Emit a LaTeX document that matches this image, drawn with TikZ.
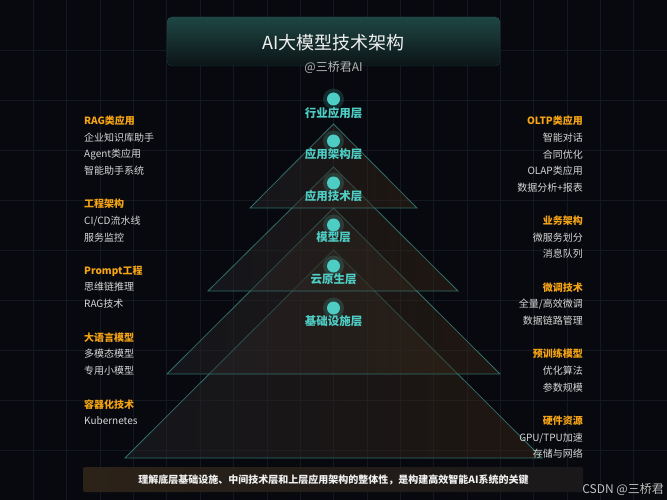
\documentclass[tikz,border=0pt]{standalone}
\usepackage{fontspec}
\setmainfont{Noto Sans CJK SC}
\usepackage{xcolor}
\usepackage{tikz}
\usetikzlibrary{calc}
\definecolor{bg}{HTML}{08090E}
\definecolor{gridc}{HTML}{141820}
\definecolor{teal}{HTML}{4ECDC4}
\definecolor{edge}{HTML}{3A8C86}
\definecolor{gold}{HTML}{F5A416}
\definecolor{item}{HTML}{D6D6D6}
\definecolor{boxtop}{HTML}{1E4644}
\definecolor{boxbot}{HTML}{0C1416}
\definecolor{tril}{HTML}{26272C}
\definecolor{trir}{HTML}{3A2816}
\definecolor{banl}{HTML}{2C2218}
\definecolor{banr}{HTML}{1A181A}
\tikzset{
  gridline/.style={draw=gridc, line width=0.6pt},
  tri/.style={draw=edge, draw opacity=0.75, line width=0.8pt, left color=tril, right color=trir, fill opacity=0.45},
  dot/.style={circle, fill=teal, inner sep=0pt, minimum size=13pt},
  glow/.style={circle, fill=teal, fill opacity=0.18, inner sep=0pt, minimum size=21pt},
  layer/.style={text=teal, font=\fontsize{11.5}{13}\selectfont\bfseries},
  head/.style={text=gold, font=\fontsize{10}{12}\selectfont\bfseries, anchor=#1, inner sep=0pt},
  itm/.style={text=item, font=\fontsize{10}{12}\selectfont, anchor=#1, inner sep=0pt},
}

\begin{document}
\begin{tikzpicture}[x=1pt,y=-1pt]
  % background and grid
  \fill[bg] (0,0) rectangle (667,500);
  \useasboundingbox (0,0) rectangle (667,500);
  \foreach \gx in {1,...,19} \draw[gridline] ({\gx*33.35},0) -- ({\gx*33.35},500);
  \foreach \gy in {1,...,9} \draw[gridline] (0,{\gy*50}) -- (667,{\gy*50});

  % title box
  \shade[rounded corners=5pt, top color=boxtop, bottom color=boxbot, draw=edge, draw opacity=0.35]
    (167,17) rectangle (500,66);
  \node[text=white!94!black, font=\fontsize{18}{20}\selectfont] (title) at (333.5,43) {AI大模型技术架构};
  \node[text=item!85!black, font=\fontsize{12}{14}\selectfont] (sub) at (333.5,67) {@三桥君AI};

  % pyramid
  \coordinate (top) at (333.5,0);
  \path[tri] (333.5,250) -- (125,458) -- (542,458) -- cycle;
  \path[tri] (333.5,208) -- (167,374) -- (500,374) -- cycle;
  \path[tri] (333.5,167) -- (208,291) -- (458,291) -- cycle;
  \path[tri] (333.5,124) -- (250,208) -- (417,208) -- cycle;

  % layers
  \node[glow] at (333.5,99) {};  \node[dot] (d1) at (333.5,99) {};
  \node[layer] (l1) at (333.5,113) {行业应用层};
  \node[glow] at (333.5,141) {}; \node[dot] (d2) at (333.5,141) {};
  \node[layer] (l2) at (333.5,154) {应用架构层};
  \node[glow] at (333.5,183) {}; \node[dot] (d3) at (333.5,183) {};
  \node[layer] (l3) at (333.5,196) {应用技术层};
  \node[glow] at (333.5,225) {}; \node[dot] (d4) at (333.5,225) {};
  \node[layer] (l4) at (333.5,237) {模型层};
  \node[glow] at (333.5,266) {}; \node[dot] (d5) at (333.5,266) {};
  \node[layer] (l5) at (333.5,279) {云原生层};
  \node[glow] at (333.5,308) {}; \node[dot] (d6) at (333.5,308) {};
  \node[layer] (l6) at (333.5,321) {基础设施层};

  % left column
  \node[head=west] (rag) at (84,121) {RAG类应用};
  \node[itm=west] (ragA) at (84,138) {企业知识库助手};
  \node[itm=west] (ragB) at (84,155) {Agent类应用};
  \node[itm=west] (ragC) at (84,171) {智能助手系统};
  \node[head=west] (eng) at (84,204) {工程架构};
  \node[itm=west] (engA) at (84,221) {CI/CD流水线};
  \node[itm=west] (engB) at (84,238) {服务监控};
  \node[head=west] (prm) at (84,271) {Prompt工程};
  \node[itm=west] (prmA) at (84,287) {思维链推理};
  \node[itm=west] (prmB) at (84,304) {RAG技术};
  \node[head=west] (llm) at (84,338) {大语言模型};
  \node[itm=west] (llmA) at (84,354) {多模态模型};
  \node[itm=west] (llmB) at (84,371) {专用小模型};
  \node[head=west] (ctr) at (84,405) {容器化技术};
  \node[itm=west] (ctrA) at (84,421) {Kubernetes};

  % right column
  \node[head=east] (oltp) at (583,121) {OLTP类应用};
  \node[itm=east] (oltpA) at (583,138) {智能对话};
  \node[itm=east] (oltpB) at (583,155) {合同优化};
  \node[itm=east] (oltpC) at (583,171) {OLAP类应用};
  \node[itm=east] (oltpD) at (583,188) {数据分析+报表};
  \node[head=east] (biz) at (583,221) {业务架构};
  \node[itm=east] (bizA) at (583,238) {微服务划分};
  \node[itm=east] (bizB) at (583,254) {消息队列};
  \node[head=east] (ft) at (583,288) {微调技术};
  \node[itm=east] (ftA) at (583,304) {全量/高效微调};
  \node[itm=east] (ftB) at (583,321) {数据链路管理};
  \node[head=east] (pre) at (583,354) {预训练模型};
  \node[itm=east] (preA) at (583,371) {优化算法};
  \node[itm=east] (preB) at (583,388) {参数规模};
  \node[head=east] (hw) at (583,421) {硬件资源};
  \node[itm=east] (hwA) at (583,438) {GPU/TPU加速};
  \node[itm=east] (hwB) at (583,454) {存储与网络};

  % banner
  \shade[left color=banl, right color=banr, rounded corners=2pt] (83,467) rectangle (583,492);
  \node[text=white!94!black, font=\fontsize{10}{12}\selectfont\bfseries] (note) at (333.5,480)
    {理解底层基础设施、中间技术层和上层应用架构的整体性，是构建高效智能AI系统的关键};

  \node[text=item!90!black, font=\fontsize{12}{14}\selectfont, anchor=east, inner sep=0pt] (mark) at (664,489) {CSDN @三桥君};
\end{tikzpicture}
\end{document}
